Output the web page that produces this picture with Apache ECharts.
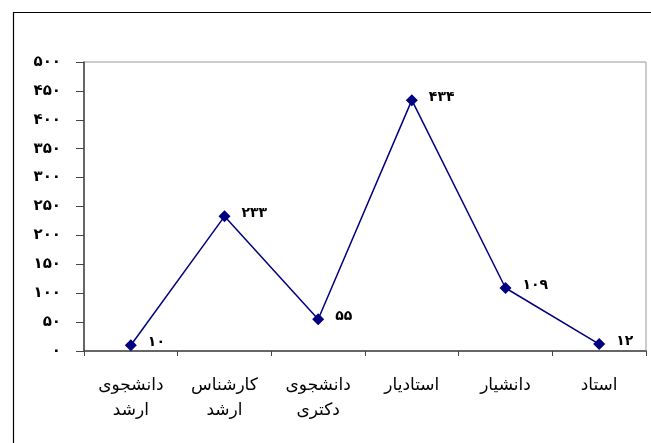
<!DOCTYPE html>
<html><head><meta charset="utf-8">
<script src="https://cdn.jsdelivr.net/npm/echarts@6/dist/echarts.min.js"></script>
<style>html,body{margin:0;padding:0;background:#fff}#c{width:651px;height:443px}</style>
</head><body><div id="c"></div>
<script>
const categories = ['دانشجوی\nارشد', 'کارشناس\nارشد', 'دانشجوی\nدکتری', 'استادیار', 'دانشیار', 'استاد'];
const values = [10, 233, 55, 434, 109, 12];
const yTicks = [0, 50, 100, 150, 200, 250, 300, 350, 400, 450, 500];

const fa = n => String(n).replace(/[0-9]/g, d => '۰۱۲۳۴۵۶۷۸۹'[d]);

const chart = echarts.init(document.getElementById('c'));
chart.setOption({
  animation: false,
  backgroundColor: '#fff',
  graphic: [{
    type: 'rect', left: 11, top: 10, shape: {width: 700, height: 500},
    style: {fill: 'none', stroke: '#000', lineWidth: 1.2}, silent: true
  }],
  grid: {left: 84, right: 5, top: 62, bottom: 92, show: true, borderColor: '#999', borderWidth: 1, backgroundColor: 'transparent'},
  xAxis: {
    type: 'category', data: categories, boundaryGap: true,
    axisLine: {lineStyle: {color: '#444', width: 1.5}},
    axisTick: {show: true, length: 5, lineStyle: {color: '#444'}},
    axisLabel: {color: '#000', fontSize: 17, fontFamily: 'DejaVu Sans', margin: 22, lineHeight: 25, interval: 0}
  },
  yAxis: {
    type: 'value', min: yTicks[0], max: yTicks[yTicks.length - 1], interval: 50,
    axisLine: {show: true, lineStyle: {color: '#444', width: 1.5}},
    axisTick: {show: true, length: 8, lineStyle: {color: '#444'}},
    splitLine: {show: false},
    axisLabel: {color: '#000', fontSize: 15, fontWeight: 'bold', fontFamily: 'DejaVu Sans', margin: 23, formatter: v => fa(v)}
  },
  series: [{
    type: 'line', data: values,
    symbol: 'diamond', symbolSize: 12,
    lineStyle: {color: '#000080', width: 1.5},
    itemStyle: {color: '#000080'},
    label: {show: true, position: 'right', distance: 11, offset: [0, -3], color: '#000', fontSize: 14, fontWeight: 'bold', fontFamily: 'DejaVu Sans', formatter: p => fa(p.value)}
  }]
});
</script></body></html>
